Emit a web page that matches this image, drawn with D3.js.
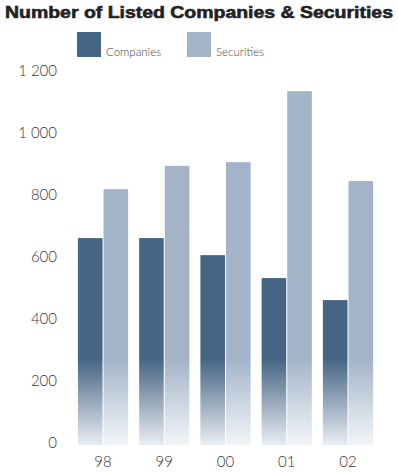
<!DOCTYPE html>
<html>
<head>
<meta charset="utf-8">
<script src="https://cdn.jsdelivr.net/npm/d3@7"></script>
<style>
body { margin: 0; background: #fff; }
svg { display: block; }
</style>
</head>
<body>
<div id="chart"></div>
<script>
var years = ["98", "99", "00", "01", "02"];
var companies = [661, 661, 606, 532, 461];
var securities = [819, 894, 906, 1135, 845];
var seriesNames = ["Companies", "Securities"];
var yTicks = [0, 200, 400, 600, 800, 1000, 1200];

var colors = { Companies: "#466584", Securities: "#a3b4c9" };
var fades = { Companies: "#e9edf3", Securities: "#f3f5f8" };

var svg = d3.select("#chart").append("svg")
	.attr("width", 398)
	.attr("height", 472);

var x = d3.scaleBand().domain(years).range([72.4, 378.6]).paddingInner(0.18).paddingOuter(0.09);
var xs = d3.scaleBand().domain(seriesNames).range([0, x.bandwidth()]).paddingInner(0.04);
var y = d3.scaleLinear().domain([0, 1200]).range([443, 71]);

var fmt = d3.formatLocale({ decimal: ".", thousands: " ", grouping: [3], currency: ["", ""] }).format(",d");

// fade gradients at the bottom of bars
var defs = svg.append("defs");
seriesNames.forEach(function(s) {
	var g = defs.append("linearGradient").attr("id", "grad" + s)
		.attr("gradientUnits", "userSpaceOnUse")
		.attr("x1", 0).attr("x2", 0)
		.attr("y1", y(0) + 2).attr("y2", y(270));
	g.append("stop").attr("offset", 0).attr("stop-color", fades[s]);
	g.append("stop").attr("offset", 1).attr("stop-color", colors[s]);
});

// title
svg.append("text")
	.attr("x", 5).attr("y", 18)
	.attr("textLength", 388).attr("lengthAdjust", "spacingAndGlyphs")
	.style("font-family", "'Liberation Sans', Arial, sans-serif")
	.style("font-weight", "bold")
	.style("font-size", "17px")
	.style("fill", "#222")
	.style("stroke", "#222").style("stroke-width", 0.6)
	.text("Number of Listed Companies & Securities");

// legend
var legendX = [77, 187];
seriesNames.forEach(function(s, i) {
	svg.append("rect").attr("x", legendX[i]).attr("y", 32).attr("width", 24).attr("height", 25)
		.style("fill", colors[s]);
	svg.append("text").attr("x", legendX[i] + 29).attr("y", 56)
		.style("font-family", "Lato, sans-serif").style("font-weight", 300)
		.style("font-size", "11.5px").style("fill", "#444")
		.text(s);
});

// y axis labels
svg.selectAll(".ytick").data(yTicks).enter().append("text")
	.attr("class", "ytick")
	.attr("x", 57).attr("y", function(d) { return y(d); })
	.attr("dy", "0.35em")
	.attr("text-anchor", "end")
	.style("font-family", "Lato, sans-serif").style("font-weight", 300)
	.style("font-size", "15px").style("fill", "#333")
	.text(function(d) { return fmt(d); });

// x labels
svg.selectAll(".xtick").data(years).enter().append("text")
	.attr("class", "xtick")
	.attr("x", function(d) { return x(d) + x.bandwidth() / 2; })
	.attr("y", 462).attr("dy", "0.35em")
	.attr("text-anchor", "middle")
	.style("font-family", "Lato, sans-serif").style("font-weight", 300)
	.style("font-size", "15px").style("fill", "#333")
	.text(function(d) { return d; });

// bars
var rows = years.map(function(yr, i) {
	return [{ year: yr, key: "Companies", value: companies[i] },
		{ year: yr, key: "Securities", value: securities[i] }];
});
var groups = svg.selectAll(".grp").data(rows).enter().append("g")
	.attr("class", "grp")
	.attr("transform", function(d) { return "translate(" + x(d[0].year) + ",0)"; });
groups.selectAll("rect").data(function(d) { return d; }).enter().append("rect")
	.attr("x", function(d) { return xs(d.key); })
	.attr("width", xs.bandwidth())
	.attr("y", function(d) { return y(d.value); })
	.attr("height", function(d) { return y(0) + 2 - y(d.value); })
	.style("fill", function(d) { return "url(#grad" + d.key + ")"; });
</script>
</body>
</html>
